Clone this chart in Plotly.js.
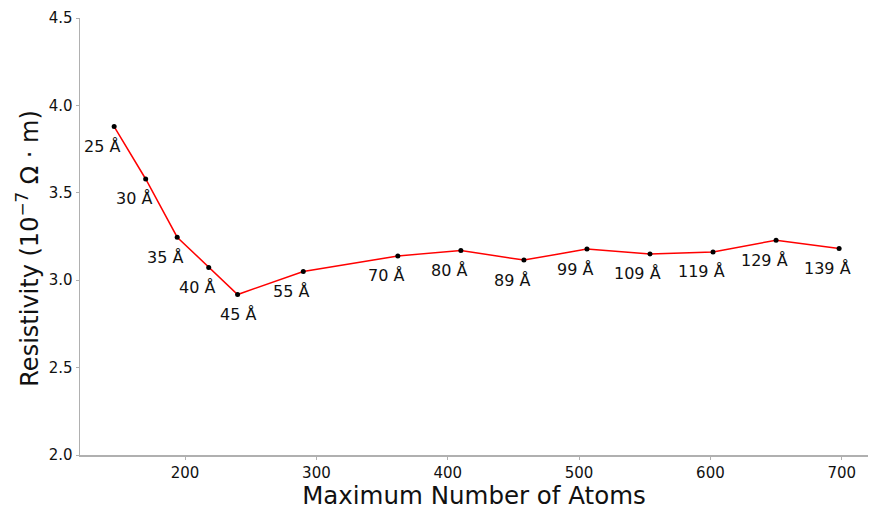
<!DOCTYPE html>
<html>
<head>
<meta charset="utf-8">
<script src="https://cdn.plot.ly/plotly-3.0.1.min.js"></script>
<style>
  html, body { margin: 0; padding: 0; background: #fff; }
  #chart { width: 869px; height: 513px; }
</style>
</head>
<body>
<div id="chart"></div>
<script>
// Resistivity versus the maximum number of atoms in the cell, one point per cell size
const maxAtoms = [146, 170, 194, 218, 240, 290, 362, 410, 458, 506, 554, 602, 650, 698];
const resistivity = [3.879, 3.579, 3.246, 3.073, 2.918, 3.050, 3.139, 3.170, 3.115, 3.178, 3.150, 3.162, 3.229, 3.182];
const sizeLabels = ['25 Å', '30 Å', '35 Å', '40 Å', '45 Å', '55 Å', '70 Å', '80 Å', '89 Å', '99 Å', '109 Å', '119 Å', '129 Å', '139 Å'];

const FONT = 'DejaVu Sans, sans-serif';

const trace = {
  x: maxAtoms,
  y: resistivity,
  mode: 'lines+markers',
  line: { color: '#ff0000', width: 1.5 },
  marker: { color: '#000000', size: 5 },
  hoverinfo: 'skip'
};

// size labels sit just below-left of each point (the 45 Å one is centred under it)
const annotations = sizeLabels.map((t, i) => ({
  x: maxAtoms[i],
  y: resistivity[i],
  xref: 'x',
  yref: 'y',
  text: t,
  showarrow: false,
  xanchor: 'center',
  yanchor: 'middle',
  xshift: t === '45 Å' ? 0 : -12,
  yshift: -20,
  font: { family: FONT, size: 16, color: '#111111' }
}));

// vertical axis title, placed beside the tick labels
annotations.push({
  x: 0,
  y: 0.472,
  xref: 'paper',
  yref: 'paper',
  xshift: -52,
  text: 'Resistivity (10<sup>−7</sup> Ω · m)',
  textangle: -90,
  showarrow: false,
  xanchor: 'center',
  yanchor: 'middle',
  font: { family: FONT, size: 24, color: '#111111' }
});

const axisStyle = {
  showgrid: false,
  zeroline: false,
  showline: true,
  linecolor: '#b0b0b0',
  linewidth: 1.5,
  ticks: 'outside',
  ticklen: 3,
  tickwidth: 1,
  tickcolor: '#b0b0b0',
  tickfont: { family: FONT, size: 15, color: '#111111' }
};

const layout = {
  width: 869,
  height: 513,
  margin: { l: 80, r: 1, t: 18, b: 58 },
  paper_bgcolor: '#ffffff',
  plot_bgcolor: '#ffffff',
  showlegend: false,
  xaxis: Object.assign({}, axisStyle, {
    range: [120, 720],
    tickvals: [200, 300, 400, 500, 600, 700],
    title: { text: 'Maximum Number of Atoms', font: { family: FONT, size: 24.5, color: '#111111' }, standoff: 5 }
  }),
  yaxis: Object.assign({}, axisStyle, {
    range: [2.0, 4.5],
    tickvals: [2.0, 2.5, 3.0, 3.5, 4.0, 4.5],
    ticktext: ['2.0', '2.5', '3.0', '3.5', '4.0', '4.5']
  }),
  annotations: annotations
};

Plotly.newPlot('chart', [trace], layout, { displayModeBar: false, staticPlot: true });
</script>
</body>
</html>
